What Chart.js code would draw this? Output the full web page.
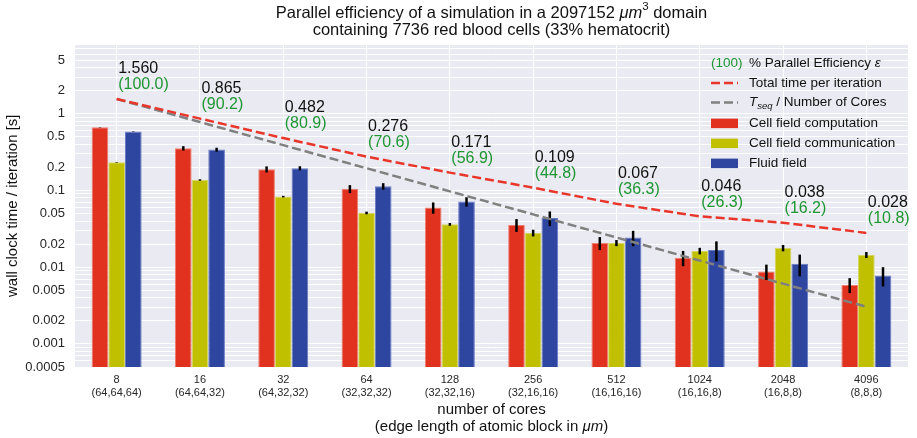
<!DOCTYPE html>
<html>
<head>
<meta charset="utf-8">
<title>Parallel efficiency</title>
<script src="https://cdn.jsdelivr.net/npm/chart.js@4.4.1/dist/chart.umd.min.js"></script>
<style>
html, body { margin: 0; padding: 0; background: #fff; }
</style>
</head>
<body>
<canvas id="chart" width="917" height="438"></canvas>
<script>
const cores = ["8", "16", "32", "64", "128", "256", "512", "1024", "2048", "4096"];
const blocks = ["(64,64,64)", "(64,64,32)", "(64,32,32)", "(32,32,32)", "(32,32,16)",
  "(32,16,16)", "(16,16,16)", "(16,16,8)", "(16,8,8)", "(8,8,8)"];

const totalTime = [1.560, 0.865, 0.482, 0.276, 0.171, 0.109, 0.067, 0.046, 0.038, 0.028];
const efficiency = [100.0, 90.2, 80.9, 70.6, 56.9, 44.8, 36.3, 26.3, 16.2, 10.8];
const idealTime = [1.560, 0.780, 0.390, 0.195, 0.0975, 0.0488, 0.0244, 0.0122, 0.0061, 0.00305];

const cellComp = [0.667, 0.355, 0.189, 0.105, 0.0598, 0.0356, 0.0207, 0.0133, 0.0088, 0.0059];
const cellCompErr = [0.004, 0.023, 0.017, 0.0125, 0.010, 0.0068, 0.004, 0.003, 0.002, 0.0013];
const cellComm = [0.233, 0.137, 0.0832, 0.051, 0.0362, 0.028, 0.0207, 0.0163, 0.0178, 0.0145];
const cellCommErr = [0.002, 0.003, 0.002, 0.002, 0.0015, 0.0028, 0.0019, 0.0016, 0.0017, 0.0013];
const fluid = [0.586, 0.341, 0.195, 0.1135, 0.0716, 0.0438, 0.0243, 0.0168, 0.0111, 0.0078];
const fluidErr = [0.004, 0.02, 0.012, 0.011, 0.010, 0.0095, 0.0055, 0.0049, 0.0035, 0.0022];

const yTickLabels = [0.0005, 0.001, 0.002, 0.005, 0.01, 0.02, 0.05, 0.1, 0.2, 0.5, 1, 2, 5];

const FONT = '"Liberation Sans", Arial, sans-serif';
const RED = "#e0321f", YELLOW = "#c0c000", BLUE = "#2e46a0";
const LINE_RED = "#e8362a", GREEN = "#1e9632";

function font(size, italic) {
  return (italic ? "italic " : "") + size + "px " + FONT;
}

// draws a row of text pieces with their own size / style
function drawRuns(ctx, runs, x, y, align) {
  let w = 0;
  runs.forEach(r => {
    ctx.font = font(r.size, r.italic);
    r.w = ctx.measureText(r.text).width;
    w += r.w;
  });
  let cx = align === "center" ? x - w / 2 : x;
  runs.forEach(r => {
    ctx.font = font(r.size, r.italic);
    ctx.fillStyle = r.color || "#111";
    ctx.textAlign = "left";
    ctx.fillText(r.text, cx, y + (r.dy || 0));
    cx += r.w;
  });
}

const errorBars = {
  id: "errorBars",
  afterDatasetDraw(chart, args) {
    const ds = chart.data.datasets[args.index];
    if (!ds.errors) return;
    const ctx = chart.ctx, y = chart.scales.y;
    ctx.save();
    ctx.strokeStyle = "#000";
    ctx.lineWidth = 2.5;
    args.meta.data.forEach((bar, i) => {
      const v = ds.data[i], e = ds.errors[i];
      ctx.beginPath();
      ctx.moveTo(bar.x, y.getPixelForValue(v + e));
      ctx.lineTo(bar.x, y.getPixelForValue(v - e));
      ctx.stroke();
    });
    ctx.restore();
  }
};

const decorations = {
  id: "decorations",
  afterDraw(chart) {
    const ctx = chart.ctx, area = chart.chartArea;
    const xs = chart.scales.x, ys = chart.scales.y;
    const mid = (area.left + area.right) / 2;
    ctx.save();
    ctx.textBaseline = "middle";

    // title
    drawRuns(ctx, [
      { text: "Parallel efficiency of a simulation in a 2097152 ", size: 16.5 },
      { text: "\u03bcm", size: 16.5, italic: true },
      { text: "3", size: 11.5, dy: -6 },
      { text: " domain", size: 16.5 }
    ], mid, 13, "center");
    drawRuns(ctx, [{ text: "containing 7736 red blood cells (33% hematocrit)", size: 16.5 }], mid, 30, "center");

    // values over the total time line
    totalTime.forEach((t, i) => {
      const px = xs.getPixelForValue(i) + 1.5;
      const py = ys.getPixelForValue(t);
      drawRuns(ctx, [{ text: t.toFixed(3), size: 16 }], px, py - 30, "left");
      drawRuns(ctx, [{ text: "(" + efficiency[i].toFixed(1) + ")", size: 16, color: GREEN }], px, py - 14, "left");
    });

    // axis titles
    drawRuns(ctx, [{ text: "number of cores", size: 15 }], mid, 410, "center");
    drawRuns(ctx, [
      { text: "(edge length of atomic block in ", size: 15 },
      { text: "\u03bcm", size: 15, italic: true },
      { text: ")", size: 15 }
    ], mid, 427, "center");
    ctx.save();
    ctx.translate(13, (area.top + area.bottom) / 2);
    ctx.rotate(-Math.PI / 2);
    drawRuns(ctx, [{ text: "wall clock time / iteration [s]", size: 15 }], 0, 0, "center");
    ctx.restore();

    // legend
    const lx = 711, tx = 749;
    drawRuns(ctx, [{ text: "(100)", size: 13.5, color: GREEN }], lx, 63.5, "left");
    drawRuns(ctx, [
      { text: "% Parallel Efficiency ", size: 13.5 },
      { text: "\u03b5", size: 13.5, italic: true }
    ], tx, 63.5, "left");
    [[LINE_RED, 83], ["#808080", 102.5]].forEach(([c, y]) => {
      ctx.save();
      ctx.strokeStyle = c;
      ctx.lineWidth = 2.5;
      ctx.setLineDash([9, 4]);
      ctx.beginPath();
      ctx.moveTo(lx, y);
      ctx.lineTo(lx + 27, y);
      ctx.stroke();
      ctx.restore();
    });
    drawRuns(ctx, [{ text: "Total time per iteration", size: 13.5 }], tx, 83, "left");
    drawRuns(ctx, [
      { text: "T", size: 13.5, italic: true },
      { text: "seq", size: 9.5, italic: true, dy: 4 },
      { text: " / Number of Cores", size: 13.5 }
    ], tx, 102.5, "left");
    [[RED, "Cell field computation", 123.3], [YELLOW, "Cell field communication", 143.3], [BLUE, "Fluid field", 163.3]]
      .forEach(([c, label, y]) => {
        ctx.fillStyle = c;
        ctx.fillRect(lx, y - 4.7, 27, 9.5);
        drawRuns(ctx, [{ text: label, size: 13.5 }], tx, y, "left");
      });
    ctx.restore();
  }
};

const bgPlugin = {
  id: "bg",
  beforeDraw(chart) {
    const { ctx, chartArea: a } = chart;
    ctx.save();
    ctx.fillStyle = "#fff";
    ctx.fillRect(0, 0, chart.width, chart.height);
    ctx.fillStyle = "#eaeaf2";
    ctx.fillRect(a.left, a.top, a.right - a.left, a.bottom - a.top);
    ctx.restore();
  }
};

new Chart(document.getElementById("chart"), {
  data: {
    labels: cores.map((c, i) => [c, blocks[i]]),
    datasets: [
      { type: "line", label: "Total time per iteration", data: totalTime, borderColor: LINE_RED,
        borderWidth: 2.5, borderDash: [9, 4], pointRadius: 0, fill: false, order: 0 },
      { type: "line", label: "Tseq / Number of Cores", data: idealTime, borderColor: "#808080",
        borderWidth: 2.5, borderDash: [9, 4], pointRadius: 0, fill: false, order: 0 },
      { type: "bar", label: "Cell field computation", data: cellComp, errors: cellCompErr,
        backgroundColor: RED, borderColor: "#ee7e70", borderWidth: 1, order: 1 },
      { type: "bar", label: "Cell field communication", data: cellComm, errors: cellCommErr,
        backgroundColor: YELLOW, borderColor: "#d6d660", borderWidth: 1, order: 1 },
      { type: "bar", label: "Fluid field", data: fluid, errors: fluidErr,
        backgroundColor: BLUE, borderColor: "#6a7bc6", borderWidth: 1, order: 1 }
    ]
  },
  options: {
    responsive: false,
    animation: false,
    layout: { padding: { top: 44.5, right: 9, left: 0, bottom: 0 } },
    datasets: { bar: { categoryPercentage: 0.6, barPercentage: 1.0 } },
    plugins: { legend: { display: false }, tooltip: { enabled: false }, title: { display: false } },
    scales: {
      x: {
        afterFit: s => { s.height = 71; },
        grid: { color: "#fff", lineWidth: 1, offset: false, drawTicks: false },
        border: { display: false },
        ticks: { padding: 7, color: "#262626", font: { family: FONT, size: 11, lineHeight: 1.12 } }
      },
      y: {
        type: "logarithmic",
        min: 0.0005,
        max: 8,
        afterFit: s => { s.width = 75; },
        afterBuildTicks: s => {
          const t = [];
          for (let e = -4; e <= 0; e++) {
            for (let m = 1; m <= 9; m++) {
              const v = +(m * Math.pow(10, e)).toPrecision(3);
              if (v >= 0.0005 && v <= 8) t.push({ value: v });
            }
          }
          s.ticks = t;
        },
        grid: { color: "#fff", lineWidth: 1, drawTicks: false },
        border: { display: false },
        ticks: {
          autoSkip: false,
          padding: 10,
          color: "#262626",
          font: { family: FONT, size: 13 },
          callback: v => yTickLabels.includes(v) ? String(v) : ""
        }
      }
    }
  },
  plugins: [bgPlugin, errorBars, decorations]
});
</script>
</body>
</html>
